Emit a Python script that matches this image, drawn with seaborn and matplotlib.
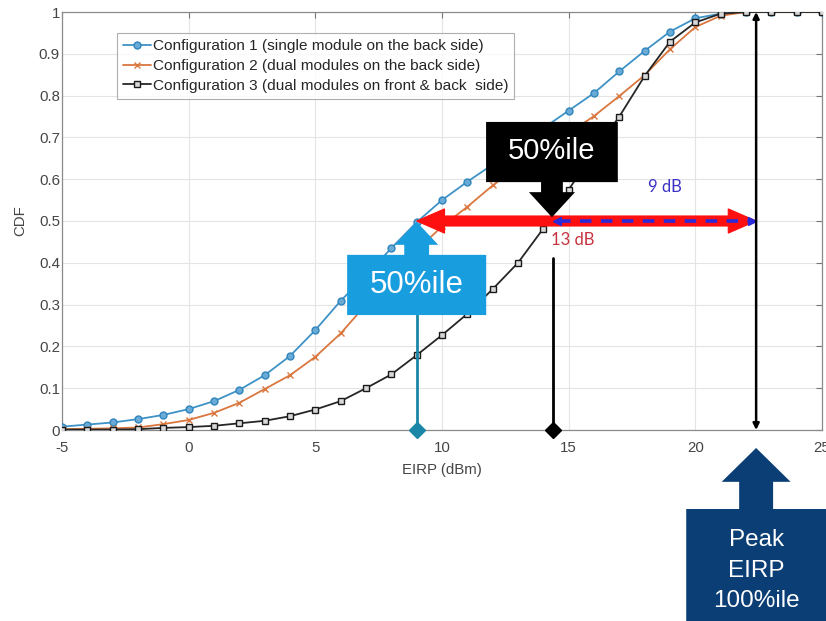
import matplotlib
matplotlib.use("Agg")
import matplotlib.pyplot as plt
from matplotlib.patches import Polygon
import pandas as pd
import seaborn as sns

# ---- data ---------------------------------------------------------------
eirp_dbm = list(range(-5, 26))
cdf_cfg1 = [0.008, 0.013, 0.018, 0.026, 0.036, 0.050, 0.069, 0.096, 0.131, 0.177,
            0.239, 0.309, 0.370, 0.435, 0.497, 0.550, 0.594, 0.635, 0.680, 0.722,
            0.764, 0.806, 0.858, 0.907, 0.953, 0.985, 0.996, 1.0, 1.0, 1.0, 1.0]
cdf_cfg2 = [0.002, 0.003, 0.004, 0.006, 0.014, 0.024, 0.041, 0.065, 0.098, 0.131,
            0.175, 0.231, 0.300, 0.370, 0.430, 0.487, 0.534, 0.585, 0.630, 0.670,
            0.710, 0.751, 0.799, 0.849, 0.911, 0.964, 0.991, 1.0, 1.0, 1.0, 1.0]
cdf_cfg3 = [0.001, 0.001, 0.001, 0.002, 0.005, 0.007, 0.010, 0.016, 0.022, 0.033,
            0.049, 0.069, 0.100, 0.133, 0.179, 0.227, 0.278, 0.337, 0.400, 0.482,
            0.575, 0.665, 0.750, 0.847, 0.929, 0.975, 0.996, 1.0, 1.0, 1.0, 1.0]
series_labels = [
    "Configuration 1 (single module on the back side)",
    "Configuration 2 (dual modules on the back side)",
    "Configuration 3 (dual modules on front & back  side)",
]
x_ticks = [-5, 0, 5, 10, 15, 20, 25]
y_ticks = [0, 0.1, 0.2, 0.3, 0.4, 0.5, 0.6, 0.7, 0.8, 0.9, 1.0]
y_tick_labels = ["0", "0.1", "0.2", "0.3", "0.4", "0.5", "0.6", "0.7", "0.8", "0.9", "1"]

median_cfg1 = 9.0     # 50th percentile, configuration 1
median_cfg3 = 14.4    # 50th percentile, configuration 3
peak_eirp = 22.4      # 100th percentile
gap_peak_cfg3 = "9 dB"
gap_peak_cfg1 = "13 dB"

# ---- styling ------------------------------------------------------------
sns.set_theme(style="whitegrid")
plt.rcParams["font.family"] = ["Liberation Sans", "DejaVu Sans"]

W, H = 826, 621
fig = plt.figure(figsize=(W / 100, H / 100), dpi=100)
ax = fig.add_axes([62 / W, 1 - 430 / H, 760 / W, 418 / H])

df = pd.DataFrame({
    "EIRP": eirp_dbm * 3,
    "CDF": cdf_cfg1 + cdf_cfg2 + cdf_cfg3,
    "Configuration": sum([[lab] * len(eirp_dbm) for lab in series_labels], []),
})

line_styles = [
    dict(color="#3f92c6", marker="o", markersize=5, markerfacecolor="#6aaad6",
         markeredgecolor="#2f86bd", markeredgewidth=1.0),
    dict(color="#d9773f", marker="x", markersize=5, markeredgecolor="#d9773f",
         markeredgewidth=1.0),
    dict(color="#262626", marker="s", markersize=4.5, markerfacecolor="#d8d8d8",
         markeredgecolor="#1a1a1a", markeredgewidth=1.0),
]
for lab, st in zip(series_labels, line_styles):
    sns.lineplot(data=df[df["Configuration"] == lab], x="EIRP", y="CDF", ax=ax,
                 label=lab, linewidth=1.3, zorder=3, **st)

ax.set_xlim(-5, 25)
ax.set_ylim(0, 1)
ax.set_xticks(x_ticks)
ax.set_xticklabels([str(t) for t in x_ticks])
ax.set_yticks(y_ticks)
ax.set_yticklabels(y_tick_labels)
ax.tick_params(axis="both", which="both", direction="in", length=4, width=0.8,
               color="#777777", labelsize=10.8, labelcolor="#454545",
               top=True, right=True)
ax.tick_params(axis="x", pad=8)
ax.tick_params(axis="y", pad=1.5)
ax.grid(True, color="#e4e4e4", linewidth=0.8)
for sp in ax.spines.values():
    sp.set_color("#8a8a8a")
    sp.set_linewidth(0.9)
ax.set_xlabel("EIRP (dBm)", fontsize=10.8, color="#454545", labelpad=6)
ax.set_ylabel("CDF", fontsize=10.8, color="#454545", labelpad=8)

leg = ax.legend(loc="upper left", bbox_to_anchor=(0.0724, 0.95), borderaxespad=0,
                fontsize=11.1, frameon=True, fancybox=False, handlelength=1.8,
                handletextpad=0.12, labelspacing=0.38, borderpad=0.4)
leg.get_frame().set_edgecolor("#9a9a9a")
leg.get_frame().set_linewidth(0.8)
for t in leg.get_texts():
    t.set_color("#262626")


# ---- annotations --------------------------------------------------------
def callout(cx, tip_y, head_y, near_y, far_y, half_box, half_shaft, half_head,
            color, text, text_y, fontsize, **tkw):
    verts = [
        (cx - half_box, far_y), (cx + half_box, far_y), (cx + half_box, near_y),
        (cx + half_shaft, near_y), (cx + half_shaft, head_y), (cx + half_head, head_y),
        (cx, tip_y), (cx - half_head, head_y), (cx - half_shaft, head_y),
        (cx - half_shaft, near_y), (cx - half_box, near_y),
    ]
    ax.add_patch(Polygon(verts, closed=True, facecolor=color, edgecolor="none",
                         zorder=8, clip_on=False))
    ax.text(cx, text_y, text, color="white", fontsize=fontsize, ha="center",
            va="center", zorder=9, clip_on=False, **tkw)


def double_arrow(x0, x1, y, half_shaft, half_head, head_len, color):
    verts = [
        (x0, y), (x0 + head_len, y + half_head), (x0 + head_len, y + half_shaft),
        (x1 - head_len, y + half_shaft), (x1 - head_len, y + half_head), (x1, y),
        (x1 - head_len, y - half_head), (x1 - head_len, y - half_shaft),
        (x0 + head_len, y - half_shaft), (x0 + head_len, y - half_head),
    ]
    ax.add_patch(Polygon(verts, closed=True, facecolor=color, edgecolor=color,
                         linewidth=0.8, zorder=5, clip_on=False))


# 13 dB span (red) and 9 dB span (blue dashed)
double_arrow(median_cfg1, peak_eirp, 0.5, 0.012, 0.029, 1.1, "#ff1010")
ax.plot([median_cfg3 + 0.2, peak_eirp - 0.2], [0.5, 0.5], color="#2a2ad8",
        linewidth=2.6, dashes=(3.2, 2.6), zorder=6)
ax.plot([median_cfg3 + 0.15], [0.5], marker="<", color="#2a2ad8", markersize=6, zorder=6)
ax.plot([peak_eirp - 0.15], [0.5], marker=">", color="#2a2ad8", markersize=6, zorder=6)
ax.text(18.8, 0.581, gap_peak_cfg3, color="#3b32c4", fontsize=12,
        family=["Lato", "DejaVu Sans"], ha="center", va="center", zorder=6)
ax.text(15.17, 0.455, gap_peak_cfg1, color="#c7333f", fontsize=12,
        family=["Lato", "DejaVu Sans"], ha="center", va="center", zorder=6)

# percentile stems
ax.plot([median_cfg1, median_cfg1], [0, 0.275], color="#1a87a8", linewidth=2, zorder=7,
        clip_on=False)
ax.plot([median_cfg1], [0], marker="D", color="#1a87a8", markersize=8, zorder=7,
        clip_on=False)
ax.plot([median_cfg3, median_cfg3], [0, 0.411], color="black", linewidth=2, zorder=7,
        clip_on=False)
ax.plot([median_cfg3], [0], marker="D", color="black", markersize=8, zorder=7,
        clip_on=False)
ax.annotate("", xy=(peak_eirp, 1.0), xytext=(peak_eirp, 0.0),
            arrowprops=dict(arrowstyle="<|-|>", color="black", lw=1.8,
                            mutation_scale=9, shrinkA=0, shrinkB=0),
            zorder=7, annotation_clip=False)

# callout boxes
callout(median_cfg1, 0.498, 0.443, 0.419, 0.275, 2.745, 0.49, 0.85,
        "#189ddf", "50%ile", 0.347, 22.5)
callout(14.34, 0.509, 0.569, 0.593, 0.737, 2.6, 0.43, 0.91,
        "#000000", "50%ile", 0.667, 21)
callout(peak_eirp, -0.043, -0.124, -0.189, -0.55, 2.76, 0.67, 1.36,
        "#0b3e74", "Peak\nEIRP\n100%ile", -0.337, 17.5, linespacing=1.5)

fig.savefig("out.png", dpi=100)
